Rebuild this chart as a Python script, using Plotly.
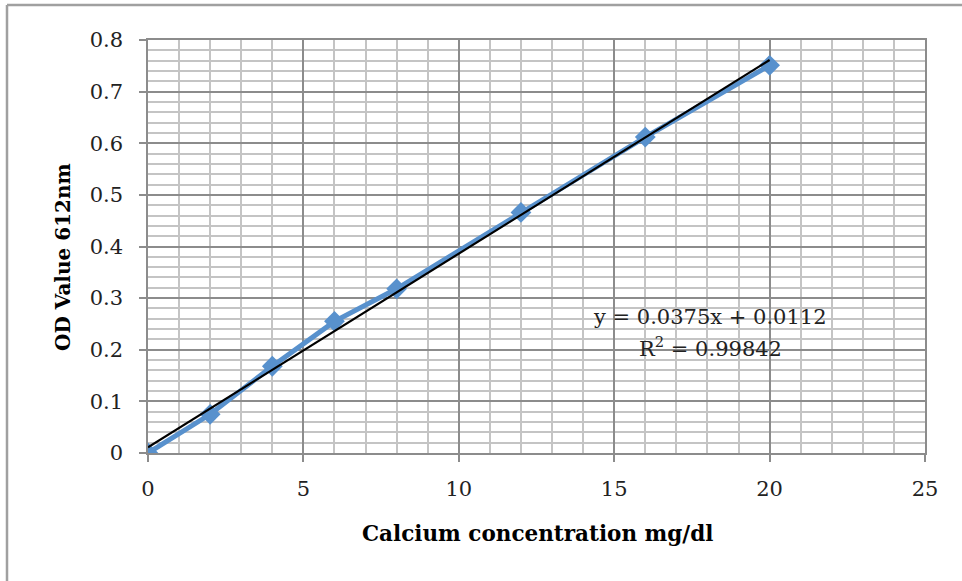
import plotly.graph_objects as go

# Data
conc = [0, 2, 4, 6, 8, 12, 16, 20]
od = [0.0, 0.075, 0.168, 0.255, 0.318, 0.466, 0.612, 0.751]
slope = 0.0375
intercept = 0.0112
r2_text = "0.99842"
x_ticks = [0, 5, 10, 15, 20, 25]
y_ticks = [0, 0.1, 0.2, 0.3, 0.4, 0.5, 0.6, 0.7, 0.8]
y_tick_text = ["0", "0.1", "0.2", "0.3", "0.4", "0.5", "0.6", "0.7", "0.8"]

FONT = "DejaVu Serif"
W, H = 962, 581
ML, MR, MT, MB = 148, 37, 40, 128
PW = W - ML - MR
PH = H - MT - MB

trend_x = [conc[0], conc[-1]]
trend_y = [slope * v + intercept for v in trend_x]

fig = go.Figure()
fig.add_trace(go.Scatter(
    x=conc, y=od, mode="lines+markers",
    line=dict(color="#5891CD", width=5),
    marker=dict(symbol="diamond", size=16, color="#5891CD"),
    showlegend=False, hoverinfo="x+y",
))
fig.add_trace(go.Scatter(
    x=trend_x, y=trend_y, mode="lines",
    line=dict(color="black", width=2.2),
    showlegend=False, hoverinfo="skip",
))

minor_col = "#C4C4C4"
major_col = "#8C8C8C"

fig.update_xaxes(
    range=[0, 25], tickvals=x_ticks, ticktext=[str(v) for v in x_ticks],
    showgrid=True, gridcolor=major_col, gridwidth=1.5,
    minor=dict(dtick=1, showgrid=True, gridcolor=minor_col, gridwidth=1.8, ticks=""),
    ticks="outside", ticklen=7, tickcolor=major_col, tickwidth=1.5,
    showline=True, linecolor=major_col, linewidth=1.5, mirror=True,
    zeroline=False,
    tickfont=dict(family=FONT, size=21, color="#222"),
    ticklabelstandoff=9,
)
fig.update_yaxes(
    range=[0, 0.8], tickvals=y_ticks, ticktext=y_tick_text,
    showgrid=True, gridcolor=major_col, gridwidth=1.5,
    minor=dict(dtick=0.02, showgrid=True, gridcolor=minor_col, gridwidth=1.8, ticks=""),
    ticks="outside", ticklen=7, tickcolor=major_col, tickwidth=1.5,
    showline=True, linecolor=major_col, linewidth=1.5, mirror=True,
    zeroline=False,
    tickfont=dict(family=FONT, size=21, color="#222"),
    ticklabelstandoff=12,
)

def px_x(p):
    return (p - ML) / PW

def px_y(p):
    return (H - MB - p) / PH

annotations = [
    dict(text="<b>Calcium concentration mg/dl</b>", x=px_x(537), y=px_y(533),
         xref="paper", yref="paper", showarrow=False,
         font=dict(family=FONT, size=21.5, color="black"), xanchor="center", yanchor="middle"),
    dict(text="<b>OD Value 612nm</b>", x=px_x(63), y=px_y(257), textangle=-90,
         xref="paper", yref="paper", showarrow=False,
         font=dict(family=FONT, size=20, color="black"), xanchor="center", yanchor="middle"),
    dict(text="y = %.4fx + %.4f" % (slope, intercept), x=px_x(710), y=px_y(317),
         xref="paper", yref="paper", showarrow=False,
         font=dict(family=FONT, size=21, color="#222"), xanchor="center", yanchor="middle"),
    dict(text="R<sup>2</sup> = " + r2_text, x=px_x(710), y=px_y(347),
         xref="paper", yref="paper", showarrow=False,
         font=dict(family=FONT, size=21, color="#222"), xanchor="center", yanchor="middle"),
]

shapes = [
    dict(type="line", xref="paper", yref="paper", x0=px_x(7), x1=px_x(7), y0=px_y(5), y1=px_y(600),
         line=dict(color="#A0A0A0", width=2.5)),
    dict(type="line", xref="paper", yref="paper", x0=px_x(7), x1=px_x(1000), y0=px_y(5), y1=px_y(5),
         line=dict(color="#A0A0A0", width=2.5)),
]

fig.update_layout(
    width=W, height=H,
    margin=dict(l=ML, r=MR, t=MT, b=MB),
    paper_bgcolor="white", plot_bgcolor="white",
    annotations=annotations, shapes=shapes,
)

fig.write_html("out.html")
